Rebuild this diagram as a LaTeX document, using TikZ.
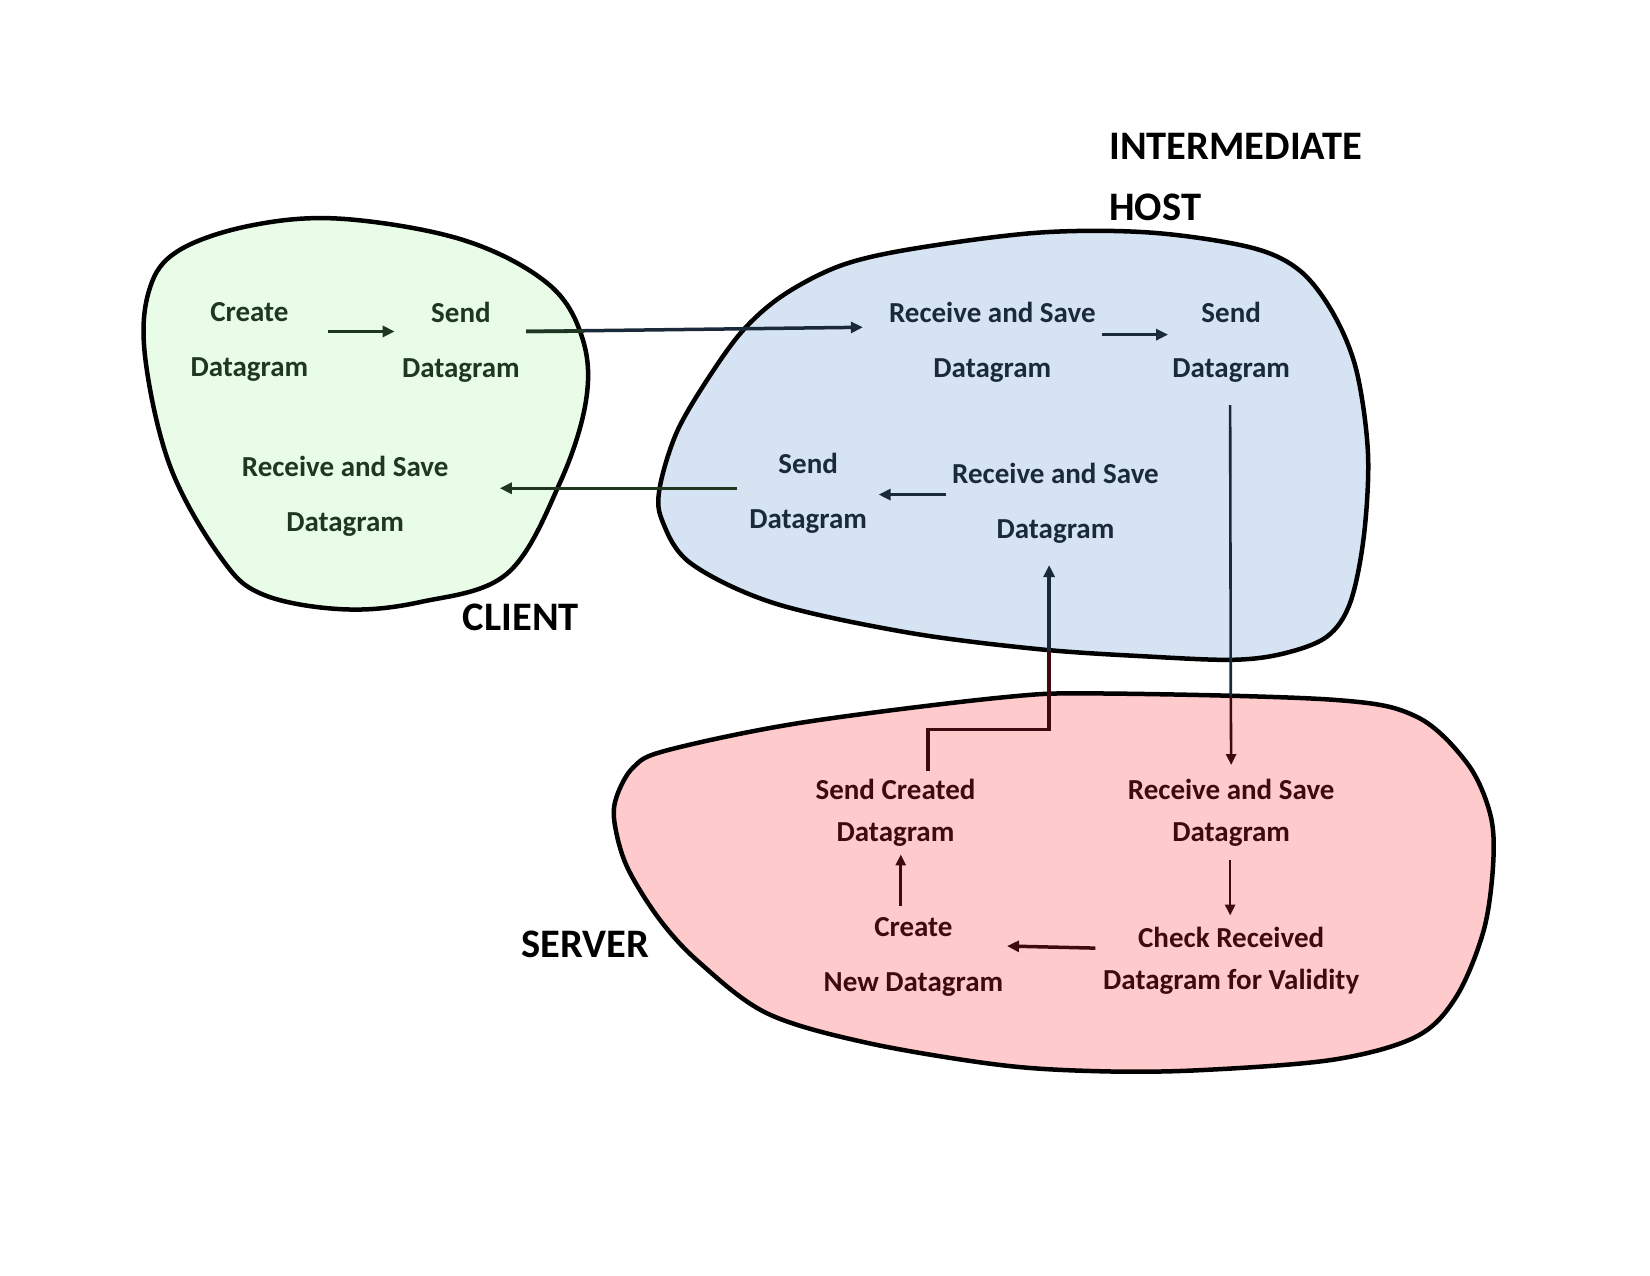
\documentclass[tikz,border=0pt]{standalone}
\usepackage{fontspec}
\setmainfont{Carlito}
\usetikzlibrary{arrows.meta,calc}
\definecolor{cfill}{HTML}{E8FCE8}
\definecolor{ifill}{HTML}{D5E3F3}
\definecolor{sfill}{HTML}{FFCACB}
\definecolor{ctext}{HTML}{1F361F}
\definecolor{itext}{HTML}{1B2A3B}
\definecolor{stext}{HTML}{3E0A10}
\begin{document}
\begin{tikzpicture}[x=1.0523pt,y=-1.0523pt,
  blob/.style={line width=4.5pt, draw=black, line join=round},
  txt/.style={font=\bfseries\fontsize{29}{55}\selectfont, align=center, inner sep=0pt},
  txts/.style={font=\bfseries\fontsize{29}{42}\selectfont, align=center, inner sep=0pt},
  ttl/.style={font=\bfseries\fontsize{40.5}{61}\selectfont, text=black, inner sep=0pt},
  arr/.style={line width=3.5pt, -{Triangle[length=12pt,width=11pt]}},
  seg/.style={line width=3.5pt},
  tarr/.style={line width=2.6pt, -{Triangle[length=11pt,width=10pt]}},
  tseg/.style={line width=2.6pt}]
\useasboundingbox (0,0) rectangle (1568,1212);
% blobs
\draw[blob, fill=cfill] plot[smooth cycle, tension=0.6] coordinates {(326,208) (440,228) (520,269) (553,320) (557,380) (532,459) (482,545) (400,572) (326,579) (250,565) (210,530) (162,444) (138,340) (142,275) (170,238) (240,214)};
\draw[blob, fill=ifill] plot[smooth cycle, tension=0.55] coordinates {(988,221) (1093,221) (1188,235) (1235,257) (1267,298) (1289,352) (1300,431) (1296,510) (1283,573) (1261,605) (1220,621) (1172,627) (1093,624) (988,617) (862,601) (735,573) (656,535) (629,494) (627,463) (643,411) (672,361) (706,314) (745,280) (800,252) (870,236)};
\draw[blob, fill=sfill] plot[smooth cycle, tension=0.55] coordinates {(950,663) (1045,659) (1267,665) (1346,681) (1394,725) (1416,773) (1419,820) (1410,884) (1384,947) (1346,985) (1267,1007) (1140,1017) (1045,1018) (950,1012) (824,991) (729,963) (665,915) (627,874) (596,824) (584,782) (586,757) (602,729) (634,713) (760,687)};
% client
\node[txt, text=ctext] (cc) at (237,325) {Create\\Datagram};
\node[txt, text=ctext] (cs) at (438,325) {Send\\Datagram};
\node[txt, text=ctext] (cr) at (328,472) {Receive and Save\\Datagram};
\node[ttl] (client) at (495,587) {CLIENT};
% intermediate host
\node[txt, text=itext] (ir1) at (943,325) {Receive and Save\\Datagram};
\node[txt, text=itext] (is1) at (1170,325) {Send\\Datagram};
\node[txt, text=itext] (is2) at (768,469) {Send\\Datagram};
\node[txt, text=itext] (ir2) at (1003,478) {Receive and Save\\Datagram};
\node[ttl, align=left, anchor=west] (ih) at (1054,168) {INTERMEDIATE\\HOST};
% server
\node[txts, text=stext] (ssc) at (851,772) {Send Created\\Datagram};
\node[txts, text=stext] (sr) at (1170,772) {Receive and Save\\Datagram};
\node[txt, text=stext] (scn) at (868,909) {Create\\New Datagram};
\node[txts, text=stext] (sck) at (1170,913) {Check Received\\Datagram for Validity};
\node[ttl] (server) at (556,897) {SERVER};
% arrows
\draw[arr, draw=ctext] ($(cc)+(75,-10)$) -- ($(cs)+(-63,-10)$);
\draw[arr, draw=itext] ($(cs)+(62,-10)$) -- ($(ir1)+(-123,-14)$);
\draw[seg, draw=ctext] ($(cs)+(62,-10)$) -- ($(cs)+(117,-10.3)$);
\draw[arr, draw=itext] ($(ir1)+(104,-7)$) -- ($(is1)+(-60,-7)$);
\draw[tseg, draw=itext] ($(is1)+(-1,60)$) -- ($(sr)+(-0.4,-110)$);
\draw[tarr, draw=stext] ($(sr)+(-0.4,-111)$) -- ($(sr)+(0,-45)$);
\draw[tarr, draw=stext] ($(sr)+(-1,45)$) -- ($(sck)+(-1,-43)$);
\draw[arr, draw=stext] ($(sck)+(-129,-12)$) -- ($(scn)+(89,-10)$);
\draw[tarr, draw=stext] ($(scn)+(-12,-48)$) -- ($(ssc)+(5,40)$);
\draw[seg, draw=stext, line join=miter] ($(ssc)+(31,-39)$) -- ($(ssc)+(31,-79)$) -- ($(ir2)+(-6,215)$) -- ($(ir2)+(-6,140)$);
\draw[arr, draw=itext] ($(ir2)+(-6,141)$) -- ($(ir2)+(-6,59)$);
\draw[arr, draw=itext] ($(ir2)+(-104,-8)$) -- ($(is2)+(67,1)$);
\draw[arr, draw=ctext] ($(is2)+(-68,-5)$) -- ($(cr)+(147,-8)$);
\end{tikzpicture}
\end{document}
